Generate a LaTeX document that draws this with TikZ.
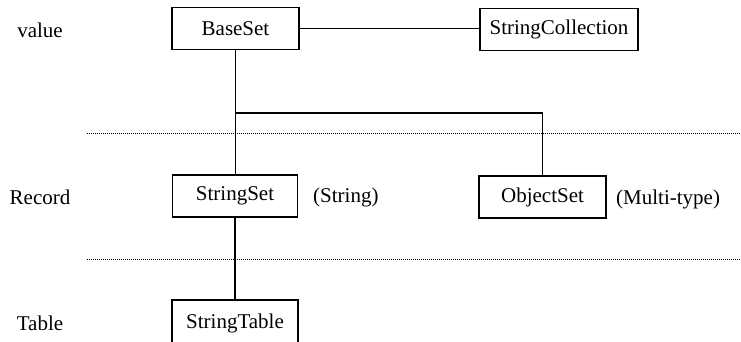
\documentclass[tikz,border=0pt]{standalone}
\usepackage{fontspec}
\setmainfont{Liberation Serif}
\begin{document}
\begin{tikzpicture}[x=1pt,y=-1pt,
  box/.style={draw,line width=1.6pt,minimum height=42pt,inner sep=0pt,font=\fontsize{21}{24}\selectfont},
  lbl/.style={font=\fontsize{21}{24}\selectfont,inner sep=0pt},
  conn/.style={line width=1.5pt},
  sep/.style={line width=1pt,dash pattern=on 1pt off 1pt}]
\useasboundingbox[fill=white] (0,0) rectangle (741,341);
\node[box,minimum width=127pt] (base) at (235.5,28.5) {BaseSet};
\node[box,minimum width=158pt] (coll) at (559,29.5) {StringCollection};
\node[box,minimum width=125pt] (sset) at (235,196) {StringSet};
\node[box,minimum width=127pt] (oset) at (542.5,197) {ObjectSet};
\node[box,minimum width=126pt,minimum height=46pt] (stab) at (235,323) {StringTable};
\node[lbl] (lv) at (40,30) {value};
\node[lbl] (lr) at (40,197) {Record};
\node[lbl] (lt) at (40,323) {Table};
\node[lbl,anchor=west] (tstr) at (313,197) {(String)};
\node[lbl,anchor=west] (tmul) at (616,199) {(Multi-type)};
\coordinate (j) at (235.5,113);
\coordinate (d1a) at (87,133);
\coordinate (d1b) at (741,133);
\coordinate (d2a) at (87,259);
\coordinate (d2b) at (741,259);
\draw[sep] (d1a) -- (d1b);
\draw[sep] (d2a) -- (d2b);
\draw[conn] (base.east) -- (coll.west |- base.east);
\draw[conn] (base.south) -- (sset.north -| base.south);
\draw[conn] (j) -| (oset.north);
\draw[conn] (sset.south) -- (stab.north);
\end{tikzpicture}
\end{document}
